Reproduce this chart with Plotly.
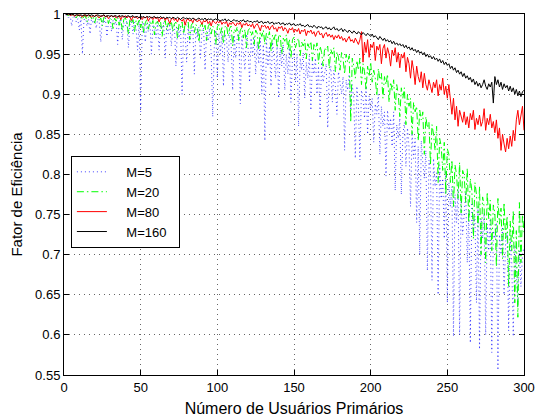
import plotly.graph_objects as go

x_users = list(range(1, 301))

eff_m5 = [
    0.999, 0.997, 0.995, 0.999, 0.985, 0.996, 0.998, 0.990, 0.994, 0.980,
    0.996, 0.950, 0.992, 0.997, 0.985, 0.993, 0.975, 0.996, 0.988, 0.992,
    0.982, 0.994, 0.990, 0.965, 0.993, 0.988, 0.995, 0.972, 0.990, 0.994,
    0.978, 0.992, 0.986, 0.993, 0.962, 0.990, 0.994, 0.968, 0.989, 0.985,
    0.992, 0.958, 0.988, 0.993, 0.975, 0.990, 0.982, 0.955, 0.991, 0.878,
    0.986, 0.990, 0.965, 0.988, 0.978, 0.991, 0.950, 0.987, 0.984, 0.970,
    0.990, 0.955, 0.986, 0.981, 0.989, 0.945, 0.985, 0.975, 0.988, 0.960,
    0.984, 0.987, 0.935, 0.983, 0.970, 0.986, 0.900, 0.982, 0.975, 0.940,
    0.985, 0.962, 0.980, 0.984, 0.925, 0.981, 0.970, 0.984, 0.945, 0.979,
    0.983, 0.930, 0.978, 0.966, 0.982, 0.950, 0.872, 0.958, 0.980, 0.920,
    0.976, 0.950, 0.979, 0.910, 0.975, 0.968, 0.940, 0.977, 0.962, 0.905,
    0.974, 0.945, 0.970, 0.978, 0.888, 0.972, 0.955, 0.930, 0.975, 0.960,
    0.915, 0.970, 0.948, 0.972, 0.925, 0.965, 0.938, 0.970, 0.900, 0.962,
    0.842, 0.968, 0.935, 0.960, 0.910, 0.965, 0.945, 0.920, 0.962, 0.895,
    0.958, 0.935, 0.962, 0.905, 0.950, 0.925, 0.958, 0.890, 0.945, 0.955,
    0.915, 0.950, 0.860, 0.945, 0.930, 0.952, 0.895, 0.940, 0.920, 0.948,
    0.880, 0.942, 0.925, 0.945, 0.900, 0.935, 0.870, 0.940, 0.915, 0.930,
    0.938, 0.858, 0.925, 0.935, 0.890, 0.930, 0.910, 0.875, 0.928, 0.915,
    0.900, 0.922, 0.830, 0.918, 0.905, 0.925, 0.880, 0.912, 0.895, 0.820,
    0.910, 0.885, 0.818, 0.905, 0.895, 0.870, 0.910, 0.850, 0.898, 0.880,
    0.895, 0.840, 0.888, 0.875, 0.900, 0.825, 0.885, 0.860, 0.878, 0.798,
    0.880, 0.855, 0.870, 0.835, 0.878, 0.780, 0.862, 0.845, 0.870, 0.775,
    0.850, 0.865, 0.810, 0.858, 0.835, 0.760, 0.852, 0.820, 0.845, 0.740,
    0.835, 0.700, 0.842, 0.815, 0.795, 0.830, 0.680, 0.818, 0.805, 0.668,
    0.820, 0.785, 0.802, 0.650, 0.812, 0.770, 0.795, 0.720, 0.805, 0.640,
    0.790, 0.760, 0.785, 0.598, 0.775, 0.740, 0.782, 0.600, 0.770, 0.725,
    0.760, 0.778, 0.690, 0.755, 0.590, 0.765, 0.730, 0.748, 0.640, 0.760,
    0.582, 0.745, 0.720, 0.752, 0.600, 0.738, 0.705, 0.745, 0.578, 0.730,
    0.720, 0.740, 0.556, 0.725, 0.700, 0.735, 0.650, 0.715, 0.728, 0.605,
    0.720, 0.690, 0.598, 0.712, 0.680, 0.635, 0.705, 0.660, 0.700, 0.710,
]

eff_m20 = [
    1.000, 0.999, 0.998, 1.000, 0.997, 0.999, 0.998, 0.995, 0.999, 0.997,
    0.998, 0.993, 0.997, 0.998, 0.990, 0.996, 0.998, 0.994, 0.997, 0.989,
    0.996, 0.998, 0.992, 0.995, 0.985, 0.996, 0.994, 0.997, 0.988, 0.995,
    0.993, 0.982, 0.995, 0.991, 0.996, 0.986, 0.994, 0.980, 0.993, 0.995,
    0.990, 0.975, 0.994, 0.988, 0.993, 0.978, 0.992, 0.986, 0.994, 0.983,
    0.991, 0.976, 0.989, 0.993, 0.981, 0.990, 0.986, 0.992, 0.974, 0.989,
    0.991, 0.984, 0.990, 0.972, 0.988, 0.992, 0.980, 0.989, 0.985, 0.991,
    0.978, 0.988, 0.990, 0.970, 0.987, 0.983, 0.990, 0.975, 0.988, 0.986,
    0.990, 0.968, 0.986, 0.989, 0.977, 0.987, 0.983, 0.965, 0.986, 0.988,
    0.979, 0.986, 0.967, 0.984, 0.988, 0.975, 0.985, 0.981, 0.962, 0.984,
    0.987, 0.976, 0.983, 0.963, 0.984, 0.986, 0.972, 0.982, 0.985, 0.960,
    0.981, 0.978, 0.984, 0.966, 0.980, 0.983, 0.970, 0.981, 0.958, 0.979,
    0.982, 0.973, 0.978, 0.962, 0.980, 0.976, 0.955, 0.978, 0.972, 0.980,
    0.962, 0.976, 0.970, 0.978, 0.953, 0.974, 0.968, 0.976, 0.958, 0.972,
    0.975, 0.950, 0.970, 0.966, 0.974, 0.955, 0.969, 0.945, 0.968, 0.971,
    0.958, 0.966, 0.970, 0.948, 0.965, 0.960, 0.968, 0.944, 0.963, 0.958,
    0.966, 0.942, 0.962, 0.955, 0.964, 0.938, 0.960, 0.952, 0.935, 0.958,
    0.955, 0.960, 0.932, 0.956, 0.950, 0.958, 0.928, 0.953, 0.946, 0.930,
    0.952, 0.945, 0.925, 0.950, 0.940, 0.948, 0.865, 0.945, 0.935, 0.920,
    0.942, 0.930, 0.945, 0.912, 0.938, 0.928, 0.905, 0.935, 0.922, 0.940,
    0.915, 0.930, 0.920, 0.898, 0.932, 0.918, 0.926, 0.895, 0.922, 0.912,
    0.925, 0.890, 0.915, 0.905, 0.918, 0.880, 0.912, 0.900, 0.872, 0.908,
    0.895, 0.908, 0.862, 0.900, 0.885, 0.895, 0.850, 0.890, 0.878, 0.885,
    0.842, 0.880, 0.868, 0.878, 0.825, 0.872, 0.858, 0.865, 0.812, 0.862,
    0.850, 0.830, 0.860, 0.790, 0.845, 0.835, 0.805, 0.840, 0.775, 0.832,
    0.825, 0.790, 0.818, 0.760, 0.812, 0.800, 0.770, 0.815, 0.752, 0.805,
    0.798, 0.765, 0.808, 0.740, 0.795, 0.780, 0.720, 0.790, 0.775, 0.735,
    0.785, 0.700, 0.772, 0.760, 0.690, 0.778, 0.745, 0.768, 0.705, 0.762,
    0.752, 0.685, 0.770, 0.738, 0.758, 0.695, 0.765, 0.720, 0.748, 0.660,
    0.742, 0.705, 0.755, 0.640, 0.730, 0.622, 0.765, 0.690, 0.750, 0.728,
]

eff_m80 = [
    1.000, 0.999, 1.000, 0.998, 0.999, 0.999, 0.997, 0.999, 0.998, 0.999,
    0.998, 0.996, 0.999, 0.998, 0.997, 0.999, 0.998, 0.996, 0.998, 0.997,
    0.999, 0.997, 0.995, 0.998, 0.997, 0.999, 0.996, 0.998, 0.994, 0.997,
    0.998, 0.996, 0.998, 0.995, 0.997, 0.998, 0.993, 0.997, 0.996, 0.998,
    0.995, 0.997, 0.996, 0.992, 0.997, 0.995, 0.997, 0.994, 0.996, 0.997,
    0.993, 0.996, 0.995, 0.997, 0.991, 0.995, 0.996, 0.993, 0.996, 0.994,
    0.996, 0.990, 0.995, 0.994, 0.996, 0.992, 0.995, 0.993, 0.988, 0.994,
    0.995, 0.992, 0.994, 0.990, 0.995, 0.993, 0.991, 0.994, 0.986, 0.993,
    0.994, 0.991, 0.993, 0.989, 0.994, 0.992, 0.990, 0.993, 0.991, 0.987,
    0.992, 0.990, 0.993, 0.988, 0.991, 0.985, 0.992, 0.990, 0.988, 0.991,
    0.989, 0.992, 0.987, 0.990, 0.988, 0.991, 0.984, 0.989, 0.987, 0.990,
    0.988, 0.985, 0.989, 0.987, 0.990, 0.983, 0.988, 0.986, 0.989, 0.985,
    0.987, 0.984, 0.988, 0.982, 0.986, 0.988, 0.984, 0.979, 0.986, 0.984,
    0.986, 0.982, 0.985, 0.980, 0.984, 0.986, 0.981, 0.983, 0.978, 0.984,
    0.982, 0.985, 0.979, 0.983, 0.981, 0.976, 0.982, 0.980, 0.983, 0.977,
    0.981, 0.978, 0.982, 0.975, 0.980, 0.978, 0.981, 0.973, 0.979, 0.977,
    0.980, 0.975, 0.978, 0.972, 0.977, 0.979, 0.974, 0.976, 0.970, 0.975,
    0.977, 0.972, 0.975, 0.971, 0.974, 0.968, 0.973, 0.970, 0.974, 0.969,
    0.972, 0.967, 0.970, 0.965, 0.969, 0.972, 0.966, 0.968, 0.964, 0.970,
    0.966, 0.962, 0.968, 0.978, 0.940, 0.965, 0.952, 0.968, 0.946, 0.962,
    0.958, 0.965, 0.942, 0.960, 0.955, 0.962, 0.938, 0.957, 0.962, 0.945,
    0.958, 0.950, 0.935, 0.955, 0.948, 0.958, 0.940, 0.952, 0.933, 0.950,
    0.945, 0.952, 0.928, 0.946, 0.938, 0.920, 0.942, 0.930, 0.912, 0.935,
    0.922, 0.915, 0.928, 0.908, 0.926, 0.912, 0.905, 0.918, 0.910, 0.902,
    0.915, 0.908, 0.918, 0.898, 0.912, 0.905, 0.920, 0.900, 0.910, 0.895,
    0.912, 0.890, 0.875, 0.895, 0.868, 0.885, 0.860, 0.880, 0.872, 0.865,
    0.878, 0.862, 0.872, 0.858, 0.876, 0.868, 0.880, 0.856, 0.870, 0.862,
    0.874, 0.860, 0.866, 0.882, 0.855, 0.870, 0.862, 0.875, 0.858, 0.866,
    0.852, 0.868, 0.845, 0.858, 0.830, 0.850, 0.838, 0.828, 0.845, 0.832,
    0.848, 0.835, 0.855, 0.842, 0.868, 0.880, 0.862, 0.872, 0.885, 0.855,
]

eff_m160 = [
    1.000, 0.999, 1.000, 0.999, 0.999, 1.000, 0.998, 0.999, 0.999, 0.998,
    0.999, 0.998, 0.999, 0.999, 0.998, 0.999, 0.998, 0.999, 0.998, 0.997,
    0.998, 0.999, 0.998, 0.997, 0.998, 0.999, 0.997, 0.998, 0.998, 0.997,
    0.998, 0.997, 0.998, 0.998, 0.996, 0.998, 0.997, 0.998, 0.997, 0.996,
    0.997, 0.998, 0.996, 0.997, 0.998, 0.996, 0.997, 0.997, 0.995, 0.997,
    0.996, 0.997, 0.995, 0.997, 0.996, 0.997, 0.995, 0.996, 0.997, 0.995,
    0.996, 0.995, 0.997, 0.995, 0.996, 0.994, 0.996, 0.995, 0.996, 0.994,
    0.996, 0.995, 0.994, 0.996, 0.995, 0.993, 0.995, 0.996, 0.994, 0.995,
    0.994, 0.995, 0.993, 0.995, 0.994, 0.992, 0.994, 0.995, 0.993, 0.994,
    0.993, 0.995, 0.992, 0.994, 0.993, 0.994, 0.992, 0.993, 0.994, 0.992,
    0.993, 0.991, 0.993, 0.992, 0.994, 0.991, 0.993, 0.992, 0.990, 0.992,
    0.993, 0.991, 0.992, 0.990, 0.992, 0.991, 0.993, 0.990, 0.991, 0.992,
    0.990, 0.991, 0.989, 0.991, 0.990, 0.992, 0.989, 0.990, 0.991, 0.988,
    0.990, 0.989, 0.991, 0.988, 0.989, 0.990, 0.987, 0.989, 0.988, 0.990,
    0.987, 0.988, 0.989, 0.986, 0.988, 0.987, 0.989, 0.986, 0.987, 0.988,
    0.985, 0.987, 0.986, 0.988, 0.985, 0.986, 0.984, 0.986, 0.987, 0.984,
    0.985, 0.983, 0.986, 0.984, 0.982, 0.985, 0.983, 0.984, 0.981, 0.983,
    0.984, 0.981, 0.983, 0.980, 0.982, 0.984, 0.980, 0.982, 0.979, 0.981,
    0.982, 0.978, 0.981, 0.979, 0.977, 0.980, 0.978, 0.976, 0.979, 0.977,
    0.975, 0.978, 0.976, 0.974, 0.977, 0.975, 0.973, 0.976, 0.974, 0.972,
    0.975, 0.971, 0.973, 0.970, 0.968, 0.972, 0.969, 0.967, 0.970, 0.966,
    0.968, 0.965, 0.967, 0.963, 0.966, 0.962, 0.964, 0.961, 0.963, 0.960,
    0.962, 0.958, 0.961, 0.957, 0.959, 0.955, 0.958, 0.954, 0.956, 0.952,
    0.955, 0.951, 0.953, 0.949, 0.952, 0.947, 0.950, 0.946, 0.948, 0.944,
    0.947, 0.943, 0.945, 0.941, 0.944, 0.939, 0.942, 0.937, 0.940, 0.936,
    0.938, 0.932, 0.935, 0.930, 0.933, 0.927, 0.930, 0.925, 0.928, 0.922,
    0.926, 0.920, 0.923, 0.918, 0.921, 0.915, 0.919, 0.912, 0.916, 0.910,
    0.914, 0.908, 0.912, 0.918, 0.910, 0.906, 0.913, 0.909, 0.915, 0.889,
    0.922, 0.912, 0.918, 0.909, 0.915, 0.906, 0.913, 0.908, 0.911, 0.904,
    0.910, 0.903, 0.908, 0.900, 0.906, 0.898, 0.904, 0.897, 0.903, 0.905,
]

series_names = ["M=5", "M=20", "M=80", "M=160"]
series_values = [eff_m5, eff_m20, eff_m80, eff_m160]
series_colors = ["rgba(0,0,255,0.75)", "#00ff00", "#ff0000", "#000000"]
series_dash = ["1px,3px", "7px,3px,1.5px,3px", "solid", "solid"]
series_width = [1, 1, 1, 1]

x_ticks = [0, 50, 100, 150, 200, 250, 300]
y_ticks = [0.55, 0.6, 0.65, 0.7, 0.75, 0.8, 0.85, 0.9, 0.95, 1]
y_tick_text = ["0.55", "0.6", "0.65", "0.7", "0.75", "0.8", "0.85", "0.9", "0.95", "1"]

FONT = "Liberation Sans, Arial, sans-serif"
PAD = "\u00a0\u00a0\u00a0\u00a0"
TAIL = "\u00a0\u00a0"

fig = go.Figure()
for name, vals, col, dash, w in zip(series_names, series_values, series_colors, series_dash, series_width):
    fig.add_trace(go.Scatter(
        x=x_users, y=vals, mode="lines", name=PAD + name + TAIL,
        line=dict(color=col, width=w, dash=dash),
    ))

axis_common = dict(
    showline=True, linecolor="black", linewidth=1, mirror="ticks",
    ticks="inside", ticklen=5, tickcolor="black",
    showgrid=True, gridcolor="rgba(0,0,0,0.6)", gridwidth=1, griddash="1px,4px",
    zeroline=False, automargin=False,
    tickfont=dict(family=FONT, size=13, color="black"),
)

fig.update_layout(
    width=536, height=417,
    margin=dict(l=64, r=12, t=14, b=42),
    paper_bgcolor="white", plot_bgcolor="white",
    font=dict(family=FONT, color="black"),
    xaxis=dict(range=[0, 300], tickvals=x_ticks,
               title=dict(text="Número de Usuários Primários", font=dict(family=FONT, size=16), standoff=10),
               **axis_common),
    yaxis=dict(range=[0.55, 1], tickvals=y_ticks, ticktext=y_tick_text,
               title=dict(text="Fator de Eficiência", font=dict(family=FONT, size=15), standoff=8),
               **axis_common),
    legend=dict(x=0.015, y=0.607, xanchor="left", yanchor="top",
                bgcolor="white", bordercolor="black", borderwidth=1,
                font=dict(family=FONT, size=13), tracegroupgap=0,
                itemwidth=30),
    showlegend=True,
)

fig.write_html("out.html")
